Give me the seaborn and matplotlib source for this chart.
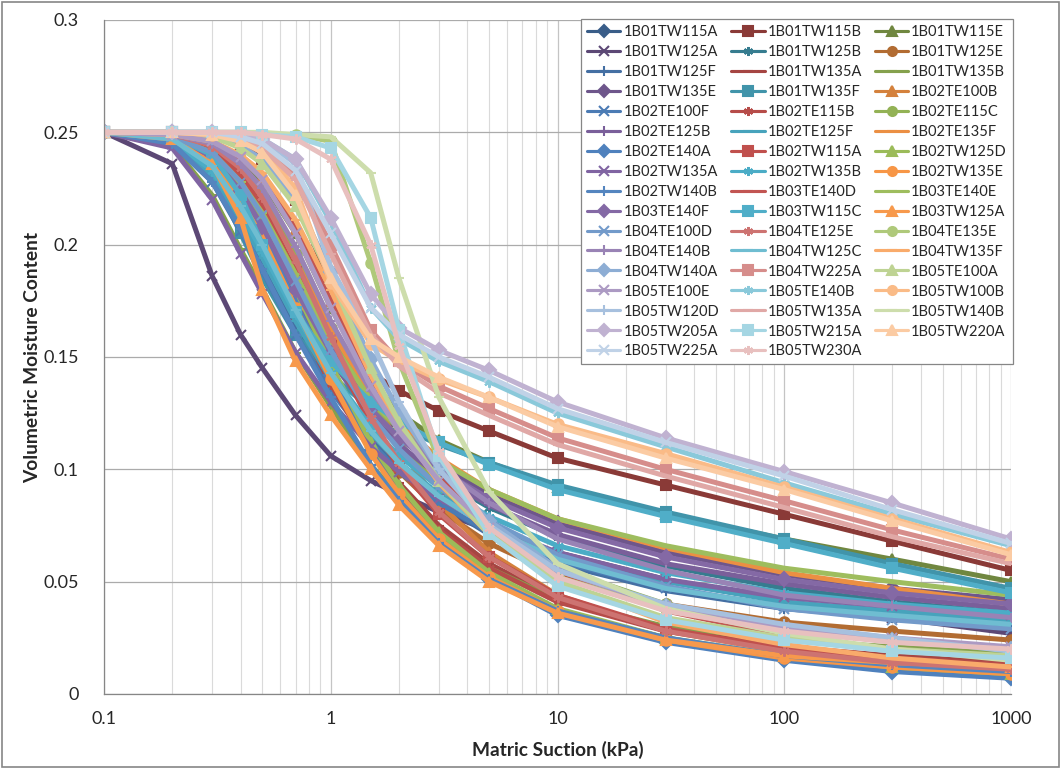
import matplotlib
matplotlib.use("Agg")
import matplotlib.pyplot as plt
import seaborn as sns
import pandas as pd
from matplotlib.patches import Rectangle
from matplotlib.ticker import FixedLocator, FixedFormatter, NullFormatter
from matplotlib.colors import to_rgb

sns.set_theme(style="white")
plt.rcParams["font.family"] = ["Lato", "DejaVu Sans"]

# Matric suction (kPa) at which each soil water characteristic curve is tabulated
suction_kpa = [0.1, 0.2, 0.3, 0.4, 0.5, 0.7, 1, 1.5, 2, 3, 5, 10, 30, 100, 300, 1000]

sample_names = [
    "1B01TW115A", "1B01TW115B", "1B01TW115E", "1B01TW125A", "1B01TW125B", "1B01TW125E",
    "1B01TW125F", "1B01TW135A", "1B01TW135B", "1B01TW135E", "1B01TW135F", "1B02TE100B",
    "1B02TE100F", "1B02TE115B", "1B02TE115C", "1B02TE125B", "1B02TE125F", "1B02TE135F",
    "1B02TE140A", "1B02TW115A", "1B02TW125D", "1B02TW135A", "1B02TW135B", "1B02TW135E",
    "1B02TW140B", "1B03TE140D", "1B03TE140E", "1B03TE140F", "1B03TW115C", "1B03TW125A",
    "1B04TE100D", "1B04TE125E", "1B04TE135E", "1B04TE140B", "1B04TW125C", "1B04TW135F",
    "1B04TW140A", "1B04TW225A", "1B05TE100A", "1B05TE100E", "1B05TE140B", "1B05TW100B",
    "1B05TW120D", "1B05TW135A", "1B05TW140B", "1B05TW205A", "1B05TW215A", "1B05TW220A",
    "1B05TW225A", "1B05TW230A",
]

# Volumetric moisture content of each sample at the suctions above
m_1B01TW115A = [0.25, 0.247, 0.236, 0.218, 0.200, 0.170, 0.140, 0.108, 0.090, 0.070, 0.053, 0.037, 0.025, 0.016, 0.011, 0.008]
m_1B01TW115B = [0.25, 0.250, 0.248, 0.245, 0.238, 0.220, 0.182, 0.143, 0.135, 0.126, 0.117, 0.105, 0.093, 0.080, 0.068, 0.055]
m_1B01TW115E = [0.25, 0.249, 0.245, 0.238, 0.228, 0.205, 0.172, 0.140, 0.125, 0.113, 0.103, 0.092, 0.080, 0.069, 0.060, 0.050]
m_1B01TW125A = [0.25, 0.236, 0.186, 0.160, 0.145, 0.124, 0.106, 0.095, 0.089, 0.081, 0.073, 0.063, 0.051, 0.041, 0.034, 0.027]
m_1B01TW125B = [0.25, 0.248, 0.240, 0.226, 0.210, 0.180, 0.150, 0.124, 0.110, 0.096, 0.083, 0.070, 0.057, 0.047, 0.041, 0.036]
m_1B01TW125E = [0.25, 0.248, 0.238, 0.222, 0.205, 0.175, 0.145, 0.115, 0.099, 0.082, 0.067, 0.053, 0.040, 0.032, 0.028, 0.024]
m_1B01TW125F = [0.25, 0.246, 0.230, 0.208, 0.190, 0.162, 0.138, 0.113, 0.100, 0.085, 0.071, 0.058, 0.046, 0.038, 0.034, 0.030]
m_1B01TW135A = [0.25, 0.247, 0.236, 0.220, 0.203, 0.172, 0.142, 0.112, 0.094, 0.075, 0.058, 0.042, 0.029, 0.021, 0.017, 0.014]
m_1B01TW135B = [0.25, 0.244, 0.222, 0.198, 0.180, 0.152, 0.128, 0.102, 0.088, 0.071, 0.056, 0.042, 0.030, 0.024, 0.021, 0.018]
m_1B01TW135E = [0.25, 0.248, 0.241, 0.228, 0.214, 0.188, 0.158, 0.130, 0.116, 0.102, 0.089, 0.076, 0.063, 0.053, 0.047, 0.042]
m_1B01TW135F = [0.25, 0.247, 0.232, 0.205, 0.185, 0.160, 0.142, 0.127, 0.119, 0.111, 0.103, 0.093, 0.081, 0.069, 0.058, 0.047]
m_1B02TE100B = [0.25, 0.249, 0.245, 0.238, 0.230, 0.207, 0.175, 0.135, 0.110, 0.085, 0.063, 0.044, 0.028, 0.019, 0.014, 0.010]
m_1B02TE100F = [0.25, 0.245, 0.228, 0.206, 0.188, 0.160, 0.135, 0.112, 0.099, 0.085, 0.072, 0.059, 0.047, 0.039, 0.035, 0.031]
m_1B02TE115B = [0.25, 0.247, 0.234, 0.216, 0.198, 0.168, 0.138, 0.108, 0.091, 0.073, 0.056, 0.041, 0.028, 0.020, 0.016, 0.013]
m_1B02TE115C = [0.25, 0.249, 0.244, 0.234, 0.222, 0.196, 0.163, 0.130, 0.112, 0.092, 0.074, 0.056, 0.040, 0.029, 0.024, 0.020]
m_1B02TE125B = [0.25, 0.247, 0.237, 0.221, 0.205, 0.177, 0.149, 0.124, 0.111, 0.097, 0.084, 0.071, 0.058, 0.049, 0.043, 0.038]
m_1B02TE125F = [0.25, 0.246, 0.231, 0.211, 0.194, 0.166, 0.140, 0.116, 0.103, 0.089, 0.075, 0.062, 0.050, 0.041, 0.037, 0.033]
m_1B02TE135F = [0.25, 0.249, 0.243, 0.232, 0.220, 0.193, 0.162, 0.134, 0.120, 0.105, 0.091, 0.078, 0.065, 0.054, 0.047, 0.040]
m_1B02TE140A = [0.25, 0.248, 0.238, 0.222, 0.205, 0.174, 0.142, 0.108, 0.089, 0.069, 0.051, 0.035, 0.023, 0.015, 0.010, 0.007]
m_1B02TW115A = [0.25, 0.249, 0.243, 0.231, 0.217, 0.188, 0.155, 0.120, 0.101, 0.080, 0.061, 0.044, 0.029, 0.020, 0.015, 0.012]
m_1B02TW125D = [0.25, 0.248, 0.240, 0.225, 0.210, 0.180, 0.147, 0.112, 0.093, 0.072, 0.054, 0.038, 0.025, 0.017, 0.012, 0.009]
m_1B02TW135A = [0.25, 0.243, 0.220, 0.196, 0.178, 0.152, 0.130, 0.110, 0.099, 0.087, 0.075, 0.063, 0.051, 0.043, 0.039, 0.035]
m_1B02TW135B = [0.25, 0.246, 0.233, 0.214, 0.197, 0.169, 0.143, 0.119, 0.106, 0.092, 0.079, 0.066, 0.054, 0.045, 0.040, 0.036]
m_1B02TW135E = [0.25, 0.247, 0.237, 0.220, 0.203, 0.172, 0.140, 0.107, 0.089, 0.069, 0.052, 0.037, 0.024, 0.016, 0.012, 0.009]
m_1B02TW140B = [0.25, 0.245, 0.228, 0.207, 0.189, 0.160, 0.132, 0.102, 0.086, 0.067, 0.051, 0.037, 0.025, 0.017, 0.013, 0.010]
m_1B03TE140D = [0.25, 0.249, 0.246, 0.239, 0.230, 0.207, 0.175, 0.140, 0.119, 0.096, 0.075, 0.055, 0.037, 0.026, 0.020, 0.016]
m_1B03TE140E = [0.25, 0.248, 0.241, 0.228, 0.214, 0.187, 0.157, 0.131, 0.118, 0.104, 0.091, 0.078, 0.066, 0.056, 0.050, 0.044]
m_1B03TE140F = [0.25, 0.248, 0.239, 0.224, 0.208, 0.180, 0.152, 0.127, 0.114, 0.100, 0.087, 0.074, 0.061, 0.051, 0.045, 0.040]
m_1B03TW115C = [0.25, 0.248, 0.240, 0.222, 0.200, 0.170, 0.148, 0.130, 0.121, 0.112, 0.102, 0.091, 0.079, 0.067, 0.056, 0.045]
m_1B03TW125A = [0.25, 0.247, 0.236, 0.212, 0.180, 0.148, 0.124, 0.100, 0.084, 0.066, 0.050, 0.036, 0.024, 0.017, 0.014, 0.012]
m_1B04TE100D = [0.25, 0.248, 0.241, 0.228, 0.213, 0.184, 0.153, 0.124, 0.109, 0.092, 0.077, 0.062, 0.048, 0.038, 0.033, 0.029]
m_1B04TE125E = [0.25, 0.249, 0.244, 0.234, 0.221, 0.193, 0.159, 0.123, 0.103, 0.081, 0.061, 0.043, 0.028, 0.019, 0.014, 0.011]
m_1B04TE135E = [0.25, 0.250, 0.250, 0.250, 0.249, 0.249, 0.246, 0.192, 0.148, 0.104, 0.073, 0.052, 0.038, 0.029, 0.024, 0.020]
m_1B04TE140B = [0.25, 0.249, 0.245, 0.236, 0.225, 0.199, 0.166, 0.135, 0.119, 0.101, 0.085, 0.069, 0.055, 0.044, 0.039, 0.034]
m_1B04TW125C = [0.25, 0.247, 0.235, 0.217, 0.200, 0.171, 0.143, 0.117, 0.103, 0.088, 0.074, 0.060, 0.047, 0.039, 0.035, 0.031]
m_1B04TW135F = [0.25, 0.249, 0.246, 0.240, 0.232, 0.211, 0.180, 0.142, 0.119, 0.094, 0.071, 0.050, 0.032, 0.022, 0.016, 0.012]
m_1B04TW140A = [0.25, 0.250, 0.248, 0.244, 0.238, 0.220, 0.188, 0.149, 0.126, 0.100, 0.077, 0.056, 0.039, 0.029, 0.024, 0.020]
m_1B04TW225A = [0.25, 0.250, 0.249, 0.247, 0.244, 0.232, 0.200, 0.162, 0.148, 0.137, 0.127, 0.114, 0.100, 0.086, 0.073, 0.060]
m_1B05TE100A = [0.25, 0.250, 0.248, 0.243, 0.236, 0.217, 0.185, 0.145, 0.121, 0.095, 0.071, 0.050, 0.034, 0.025, 0.020, 0.017]
m_1B05TE100E = [0.25, 0.249, 0.246, 0.239, 0.229, 0.205, 0.172, 0.137, 0.117, 0.095, 0.074, 0.055, 0.039, 0.030, 0.025, 0.021]
m_1B05TE140B = [0.25, 0.250, 0.250, 0.249, 0.247, 0.238, 0.210, 0.172, 0.158, 0.148, 0.139, 0.125, 0.110, 0.094, 0.080, 0.066]
m_1B05TW100B = [0.25, 0.250, 0.249, 0.247, 0.243, 0.225, 0.183, 0.156, 0.148, 0.140, 0.132, 0.120, 0.107, 0.092, 0.078, 0.063]
m_1B05TW120D = [0.25, 0.250, 0.250, 0.249, 0.247, 0.236, 0.190, 0.158, 0.130, 0.100, 0.075, 0.055, 0.040, 0.031, 0.025, 0.019]
m_1B05TW135A = [0.25, 0.250, 0.249, 0.247, 0.243, 0.229, 0.196, 0.160, 0.146, 0.134, 0.124, 0.111, 0.097, 0.083, 0.070, 0.058]
m_1B05TW140B = [0.25, 0.250, 0.250, 0.250, 0.250, 0.249, 0.248, 0.232, 0.185, 0.132, 0.090, 0.058, 0.038, 0.027, 0.020, 0.015]
m_1B05TW205A = [0.25, 0.250, 0.250, 0.249, 0.247, 0.238, 0.212, 0.178, 0.163, 0.153, 0.144, 0.130, 0.114, 0.099, 0.085, 0.069]
m_1B05TW215A = [0.25, 0.250, 0.250, 0.250, 0.249, 0.248, 0.243, 0.212, 0.162, 0.106, 0.071, 0.048, 0.033, 0.024, 0.019, 0.016]
m_1B05TW220A = [0.25, 0.250, 0.249, 0.246, 0.241, 0.222, 0.185, 0.158, 0.150, 0.141, 0.132, 0.119, 0.105, 0.091, 0.077, 0.062]
m_1B05TW225A = [0.25, 0.250, 0.250, 0.248, 0.245, 0.233, 0.205, 0.172, 0.160, 0.150, 0.141, 0.127, 0.112, 0.097, 0.082, 0.067]
m_1B05TW230A = [0.25, 0.250, 0.250, 0.250, 0.249, 0.247, 0.238, 0.200, 0.155, 0.108, 0.074, 0.052, 0.037, 0.028, 0.023, 0.020]

moisture = [
    m_1B01TW115A, m_1B01TW115B, m_1B01TW115E, m_1B01TW125A, m_1B01TW125B, m_1B01TW125E,
    m_1B01TW125F, m_1B01TW135A, m_1B01TW135B, m_1B01TW135E, m_1B01TW135F, m_1B02TE100B,
    m_1B02TE100F, m_1B02TE115B, m_1B02TE115C, m_1B02TE125B, m_1B02TE125F, m_1B02TE135F,
    m_1B02TE140A, m_1B02TW115A, m_1B02TW125D, m_1B02TW135A, m_1B02TW135B, m_1B02TW135E,
    m_1B02TW140B, m_1B03TE140D, m_1B03TE140E, m_1B03TE140F, m_1B03TW115C, m_1B03TW125A,
    m_1B04TE100D, m_1B04TE125E, m_1B04TE135E, m_1B04TE140B, m_1B04TW125C, m_1B04TW135F,
    m_1B04TW140A, m_1B04TW225A, m_1B05TE100A, m_1B05TE100E, m_1B05TE140B, m_1B05TW100B,
    m_1B05TW120D, m_1B05TW135A, m_1B05TW140B, m_1B05TW205A, m_1B05TW215A, m_1B05TW220A,
    m_1B05TW225A, m_1B05TW230A,
]

x_ticks = [0.1, 1, 10, 100, 1000]
x_tick_labels = ["0.1", "1", "10", "100", "1000"]
y_ticks = [0, 0.05, 0.1, 0.15, 0.2, 0.25, 0.3]
y_tick_labels = ["0", "0.05", "0.1", "0.15", "0.2", "0.25", "0.3"]

rows = []
for name, vals in zip(sample_names, moisture):
    for s, t in zip(suction_kpa, vals):
        rows.append({"sample": name, "suction": s, "theta": t})
df = pd.DataFrame(rows)

# Office-style accent colours, darkest shades first, lightening with each cycle
accents = ["#4F81BD", "#C0504D", "#9BBB59", "#8064A2", "#4BACC6", "#F79646"]
shade_steps = [-0.28, -0.14, -0.05, 0.0, 0.03, 0.2, 0.35, 0.5, 0.64]


def shade(hex_color, t):
    r, g, b = to_rgb(hex_color)
    if t < 0:
        return (r * (1 + t), g * (1 + t), b * (1 + t))
    return (r + (1 - r) * t, g + (1 - g) * t, b + (1 - b) * t)


marker_cycle = ["D", "s", "^", "x", (6, 2, 0), "o", "+", "_", "_"]

fig = plt.figure(figsize=(10.61, 7.69), dpi=100)
ax = fig.add_axes([104 / 1061, 1 - 694 / 769, 907 / 1061, 674 / 769])

for i, name in enumerate(sample_names):
    color = shade(accents[i % 6], shade_steps[i // 6])
    mk = marker_cycle[i % 9]
    sns.lineplot(
        data=df[df["sample"] == name], x="suction", y="theta", ax=ax,
        color=color, marker=mk, markersize=7.5, markeredgecolor=color,
        markerfacecolor=color, markeredgewidth=1.5, linewidth=3.6,
        label=name, errorbar=None, estimator=None, sort=False,
    )

ax.set_xscale("log")
ax.set_xlim(0.1, 1000)
ax.set_ylim(0, 0.3)

ax.xaxis.set_major_locator(FixedLocator(x_ticks))
ax.xaxis.set_major_formatter(FixedFormatter(x_tick_labels))
minor = [m * d for d in [0.1, 1, 10, 100] for m in range(2, 10)]
ax.xaxis.set_minor_locator(FixedLocator(minor))
ax.xaxis.set_minor_formatter(NullFormatter())
ax.yaxis.set_major_locator(FixedLocator(y_ticks))
ax.yaxis.set_major_formatter(FixedFormatter(y_tick_labels))

ax.grid(True, which="major", axis="y", color="#ABABAB", linewidth=0.9)
ax.grid(True, which="major", axis="x", color="#C4C4C4", linewidth=0.9)
ax.grid(True, which="minor", axis="x", color="#DADADA", linewidth=0.8)
ax.set_axisbelow(True)

for side in ["top", "right"]:
    ax.spines[side].set_visible(False)
for side in ["left", "bottom"]:
    ax.spines[side].set_color("#868686")
    ax.spines[side].set_linewidth(0.9)

ax.tick_params(axis="both", which="both", length=0, labelsize=13, colors="#262626")
ax.tick_params(axis="x", pad=12)
ax.tick_params(axis="y", pad=18)

ax.set_xlabel("Matric Suction (kPa)", fontsize=13.8, fontweight="bold", color="#262626")
ax.set_ylabel("Volumetric Moisture Content", fontsize=13.8, fontweight="bold", color="#262626")
ax.xaxis.label.set_va("center")
ax.yaxis.label.set_va("center")
ax.xaxis.set_label_coords(0.5, -(750 - 694) / 674)
ax.yaxis.set_label_coords(-(104 - 33) / 907, 0.5)

handles, labels = ax.get_legend_handles_labels()
order = list(range(0, 50, 3)) + list(range(1, 50, 3)) + list(range(2, 50, 3))
leg = ax.legend(
    [handles[k] for k in order], [labels[k] for k in order],
    ncol=3, loc="upper right", bbox_to_anchor=(1.002, 1.0015), borderaxespad=0,
    fontsize=10.5, frameon=True, fancybox=False, framealpha=1, edgecolor="#868686",
    handlelength=2.3, handletextpad=0.2, columnspacing=0.85, labelspacing=0.41,
    borderpad=0.4, numpoints=1,
)
leg.get_frame().set_linewidth(0.9)
for h in leg.legend_handles:
    h.set_linewidth(2.25)
    h.set_markersize(6.5)
for t in leg.get_texts():
    t.set_color("#262626")

fig.patches.append(Rectangle((0.0015, 0.002), 0.997, 0.996, transform=fig.transFigure,
                             fill=False, edgecolor="#868686", linewidth=1.2))

fig.savefig("out.png", dpi=100)
